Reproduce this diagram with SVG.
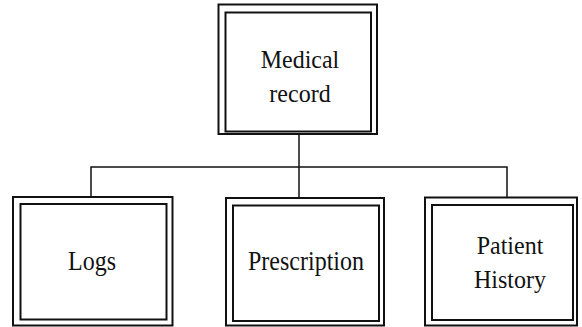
<svg xmlns="http://www.w3.org/2000/svg" width="582" height="327" viewBox="0 0 582 327">
  <style>
    .outer, .inner { fill: none; stroke: #111; stroke-width: 2; }
    .link { fill: none; stroke: #111; stroke-width: 1.5; }
    text { font-family: 'Liberation Serif', serif; font-size: 24px; fill: #111; text-anchor: middle; }
  </style>
  <rect width="582" height="327" fill="#fff"/>

  <g id="connectors">
    <path class="link" d="M299 134 V198"/>
    <path class="link" d="M91 197 V167 H507 V197.5"/>
  </g>

  <g id="medical-record" font-family="Liberation Serif, serif">
    <rect class="outer" x="218.5" y="4.5" width="158.5" height="129.5"/>
    <rect class="inner" x="225.5" y="12.5" width="145.5" height="119"/>
    <text transform="translate(300 68) scale(1 1.05)">Medical</text>
    <text transform="translate(300 102) scale(1 1.05)">record</text>
  </g>

  <g id="logs" font-family="Liberation Serif, serif">
    <rect class="outer" x="13" y="197" width="159.5" height="128.5"/>
    <rect class="inner" x="20.5" y="204" width="146" height="115.5"/>
    <text transform="translate(92 270) scale(1 1.15)">Logs</text>
  </g>

  <g id="prescription" font-family="Liberation Serif, serif">
    <rect class="outer" x="226" y="198" width="158" height="127.5"/>
    <rect class="inner" x="233" y="205.5" width="146" height="115.5"/>
    <text transform="translate(306 270) scale(1 1.15)">Prescription</text>
  </g>

  <g id="patient-history" font-family="Liberation Serif, serif">
    <rect class="outer" x="425" y="197.5" width="152" height="128"/>
    <rect class="inner" x="432" y="205" width="141" height="115"/>
    <text transform="translate(510 254) scale(1 1.05)">Patient</text>
    <text transform="translate(510 288) scale(1 1.05)">History</text>
  </g>
</svg>
